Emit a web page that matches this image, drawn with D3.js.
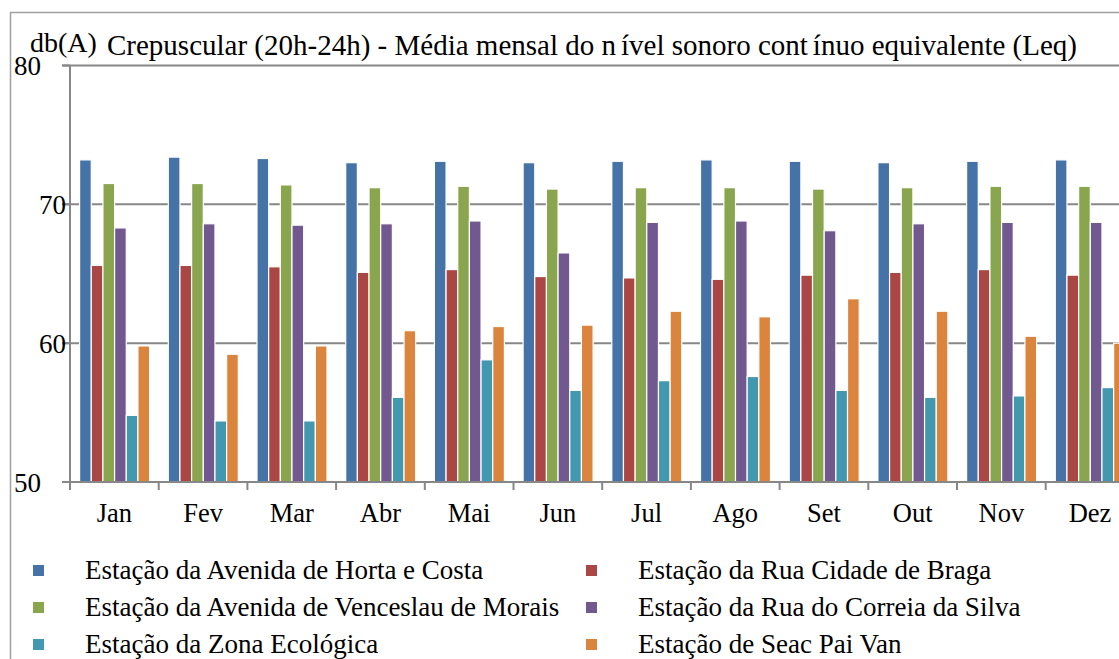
<!DOCTYPE html>
<html>
<head>
<meta charset="utf-8">
<script src="https://cdn.jsdelivr.net/npm/d3@7"></script>
<style>
  body { margin: 0; background: #fff; }
</style>
</head>
<body>
<div id="chart-container"></div>
<script>
// data
const months = ['Jan', 'Fev', 'Mar', 'Abr', 'Mai', 'Jun', 'Jul', 'Ago', 'Set', 'Out', 'Nov', 'Dez']
const stations = [
  'Estação da Avenida de Horta e Costa',
  'Estação da Rua Cidade de Braga',
  'Estação da Avenida de Venceslau de Morais',
  'Estação da Rua do Correia da Silva',
  'Estação da Zona Ecológica',
  'Estação de Seac Pai Van'
]
const hortaCosta = [73.2, 73.4, 73.3, 73.0, 73.1, 73.0, 73.1, 73.2, 73.1, 73.0, 73.1, 73.2]
const cidadeBraga = [65.6, 65.6, 65.5, 65.1, 65.3, 64.8, 64.7, 64.6, 64.9, 65.1, 65.3, 64.9]
const venceslau = [71.5, 71.5, 71.4, 71.2, 71.3, 71.1, 71.2, 71.2, 71.1, 71.2, 71.3, 71.3]
const correiaSilva = [68.3, 68.6, 68.5, 68.6, 68.8, 66.5, 68.7, 68.8, 68.1, 68.6, 68.7, 68.7]
const zonaEcologica = [54.8, 54.4, 54.4, 56.1, 58.8, 56.6, 57.3, 57.6, 56.6, 56.1, 56.2, 56.8]
const seacPaiVan = [59.8, 59.2, 59.8, 60.9, 61.2, 61.3, 62.3, 61.9, 63.2, 62.3, 60.5, 60.0]
const seriesValues = [hortaCosta, cidadeBraga, venceslau, correiaSilva, zonaEcologica, seacPaiVan]
const yTicks = [50, 60, 70, 80]

// constants
const width = 1119
const height = 659
const colors = ['#4572A7', '#AA4643', '#89A54E', '#71588F', '#4198AF', '#DB843D']
const gridColor = '#878787'
const font = "'Liberation Serif', 'Times New Roman', serif"

const svg = d3.select('#chart-container')
  .append('svg')
  .attr('width', width)
  .attr('height', height)

// outer frame (top and left edges visible)
svg.append('line')
  .attr('x1', 10).attr('x2', width).attr('y1', 12.5).attr('y2', 12.5)
  .attr('stroke', '#a0a0a0').attr('stroke-width', 1.5)
svg.append('line')
  .attr('x1', 10.5).attr('x2', 10.5).attr('y1', 12).attr('y2', height)
  .attr('stroke', '#a0a0a0').attr('stroke-width', 1.5)

// scales
const x0 = d3.scaleBand()
  .domain(months)
  .range([70, 70 + 12 * 88.7])
const x1 = d3.scaleBand()
  .domain(d3.range(stations.length))
  .range([9.6, 79.6])
const y = d3.scaleLinear()
  .domain([50, 80])
  .range([482, 65.5])

// gridlines
svg.append('g')
  .selectAll('line')
  .data(yTicks.filter(d => d > 50))
  .enter().append('line')
  .attr('x1', 62).attr('x2', width)
  .attr('y1', d => y(d)).attr('y2', d => y(d))
  .attr('stroke', gridColor).attr('stroke-width', 2)

// bars
const groups = svg.append('g')
  .selectAll('g')
  .data(months).enter()
  .append('g')
  .attr('transform', d => `translate(${x0(d)}, 0)`)
groups.selectAll('rect')
  .data((m, i) => seriesValues.map((s, k) => ({k: k, v: s[i]})))
  .enter().append('rect')
  .attr('x', d => x1(d.k))
  .attr('width', x1.bandwidth())
  .attr('y', d => y(d.v))
  .attr('height', d => y(50) - y(d.v))
  .attr('fill', d => colors[d.k])
  .attr('stroke', '#fff')
  .attr('stroke-width', 1.2)

// y axis
svg.append('line')
  .attr('x1', 70).attr('x2', 70).attr('y1', 65).attr('y2', 482)
  .attr('stroke', gridColor).attr('stroke-width', 2)
svg.append('g')
  .selectAll('line')
  .data(yTicks)
  .enter().append('line')
  .attr('x1', 62).attr('x2', 70)
  .attr('y1', d => y(d)).attr('y2', d => y(d))
  .attr('stroke', gridColor).attr('stroke-width', 2)
svg.append('g')
  .selectAll('text')
  .data(yTicks)
  .enter().append('text')
  .attr('x', d => (d === 50 || d === 80) ? 41 : 66)
  .attr('y', d => y(d) + 9.5)
  .attr('text-anchor', 'end')
  .attr('font-family', font)
  .attr('font-size', '27px')
  .text(d => d)

// x axis
svg.append('line')
  .attr('x1', 62).attr('x2', width).attr('y1', 482).attr('y2', 482)
  .attr('stroke', gridColor).attr('stroke-width', 2)
svg.append('g')
  .selectAll('line')
  .data(months)
  .enter().append('line')
  .attr('x1', d => x0(d)).attr('x2', d => x0(d))
  .attr('y1', 482).attr('y2', 490)
  .attr('stroke', gridColor).attr('stroke-width', 2)
svg.append('g')
  .selectAll('text')
  .data(months)
  .enter().append('text')
  .attr('x', d => x0(d) + x0.bandwidth() / 2)
  .attr('y', 522)
  .attr('text-anchor', 'middle')
  .attr('font-family', font)
  .attr('font-size', '26.5px')
  .text(d => d)

// titles
svg.append('text')
  .attr('x', 30).attr('y', 52)
  .attr('font-family', font)
  .attr('font-size', '28px')
  .text('db(A)')
const title = svg.append('text')
  .attr('x', 107).attr('y', 55)
  .attr('font-family', font)
  .attr('font-size', '29px')
title.append('tspan').text('Crepuscular (20h-24h) - Média mensal do n')
title.append('tspan').attr('dx', 5).text('ível sonoro cont')
title.append('tspan').attr('dx', 5).text('ínuo equivalente (Leq)')

// legend
const legend = svg.append('g')
  .selectAll('g')
  .data(stations).enter()
  .append('g')
  .attr('transform', (d, i) => `translate(${i % 2 === 0 ? 33 : 586}, ${579 + Math.floor(i / 2) * 37})`)
legend.append('rect')
  .attr('x', 0).attr('y', -14)
  .attr('width', 11).attr('height', 11)
  .attr('fill', (d, i) => colors[i])
legend.append('text')
  .attr('x', 52).attr('y', 0)
  .attr('font-family', font)
  .attr('font-size', '27px')
  .text(d => d)
</script>
</body>
</html>
